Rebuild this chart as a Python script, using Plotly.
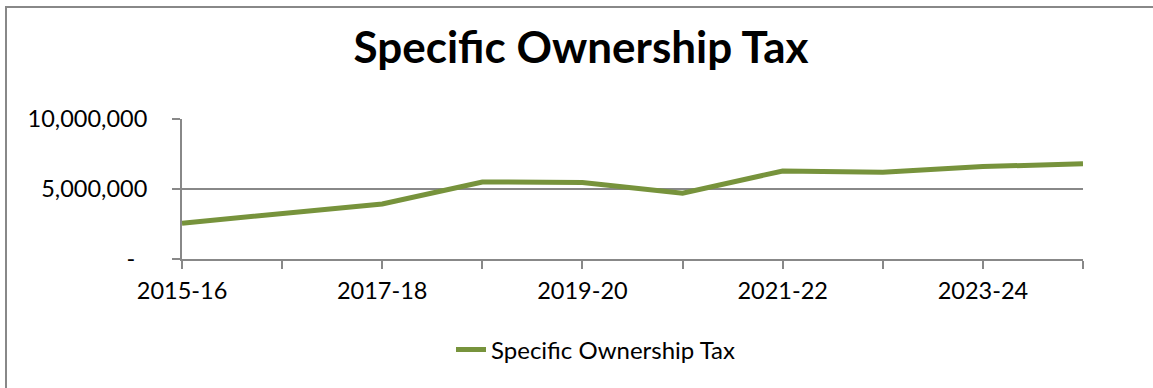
import plotly.graph_objects as go

# Fiscal years and Specific Ownership Tax revenue
years = ["2015-16", "2016-17", "2017-18", "2018-19", "2019-20",
         "2020-21", "2021-22", "2022-23", "2023-24", "2024-25"]
tax = [2560000, 3220000, 3930000, 5500000, 5470000,
       4700000, 6290000, 6200000, 6600000, 6800000]

y_ticks = [0, 5000000, 10000000]
y_tick_text = ["-\u00a0\u00a0", "5,000,000", "10,000,000"]
x_tick_text = [y if i % 2 == 0 else "" for i, y in enumerate(years)]

W, H = 1153, 388
ML, MR, MT, MB = 182, 70, 119, 129
FONT = "Lato, Calibri, sans-serif"
GREEN = "#77933C"
GREY = "#888888"

fig = go.Figure()
fig.add_trace(go.Scatter(
    x=years, y=tax, mode="lines", name="Specific Ownership Tax",
    line=dict(color=GREEN, width=5),
))

pw = W - ML - MR
ph = H - MT - MB


def px_x(v):
    return (v - ML) / pw


def px_y(v):
    return (H - MB - v) / ph


fig.update_layout(
    width=W, height=H,
    margin=dict(l=ML, r=MR, t=MT, b=MB),
    paper_bgcolor="white", plot_bgcolor="white",
    font=dict(family=FONT, size=23.5, color="#000000"),
    title=dict(text="<b>Specific Ownership Tax</b>", x=581 / W, xref="container",
               xanchor="center", y=1 - 48 / H, yref="container",
               yanchor="middle",
               font=dict(family=FONT, size=44, color="#000000")),
    showlegend=True,
    legend=dict(orientation="h", x=px_x(596), xanchor="center", xref="paper",
                y=px_y(350), yanchor="middle", font=dict(size=24)),
    xaxis=dict(
        type="category", range=[0, len(years) - 1],
        tickmode="array", tickvals=years, ticktext=x_tick_text,
        ticks="outside", ticklen=8, tickcolor=GREY, tickwidth=2,
        showline=True, linecolor=GREY, linewidth=2,
        showgrid=False, zeroline=False, ticklabelstandoff=2,
    ),
    yaxis=dict(
        range=[0, 10000000], tickmode="array", tickvals=y_ticks,
        ticktext=y_tick_text, ticks="outside", ticklen=8,
        tickcolor=GREY, tickwidth=2,
        showline=True, linecolor=GREY, linewidth=2,
        showgrid=True, gridcolor=GREY, gridwidth=2,
        zeroline=False, ticklabelstandoff=20,
    ),
    shapes=[dict(type="rect", xref="paper", yref="paper",
                 x0=px_x(6), x1=px_x(1160), y0=px_y(395), y1=px_y(7),
                 line=dict(color=GREY, width=2), fillcolor="rgba(0,0,0,0)",
                 layer="below")],
)

fig.write_html("out.html")
